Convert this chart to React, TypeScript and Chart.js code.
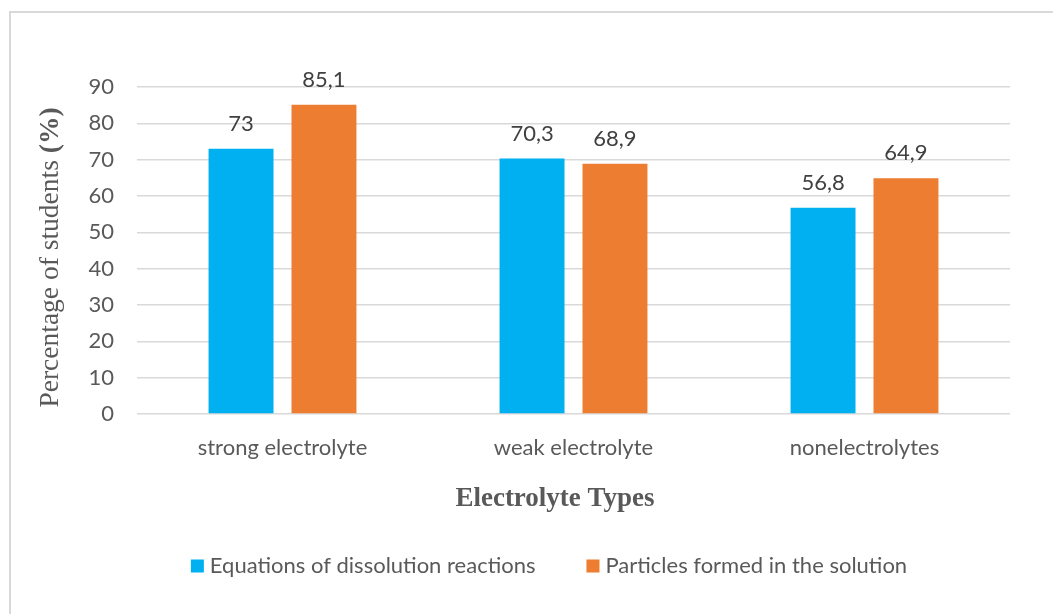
import React, { useEffect, useRef } from "react";
import { Chart, registerables } from "chart.js";

Chart.register(...registerables);

// Categories and series values (percentage of students)
const categories = ["strong electrolyte", "weak electrolyte", "nonelectrolytes"];
const dissolutionEquations = [73, 70.3, 56.8];
const particlesFormed = [85.1, 68.9, 64.9];
const seriesNames = ["Equations of dissolution reactions", "Particles formed in the solution"];
const seriesColors = ["#00B0F0", "#ED7D31"];

// Value axis
const yMin = 0;
const yMax = 90;
const yStep = 10;

// Axis titles: the y title has a regular part and a bold part
const yTitleParts = ["Percentage of students ", "(%)"];
const xTitle = "Electrolyte Types";

const SANS = "Lato, 'Open Sans', sans-serif";
const SERIF = "'Liberation Serif', 'DejaVu Serif', serif";
const TEXT_GREY = "#595959";
const LABEL_GREY = "#404040";
const GRID_GREY = "#d9d9d9";

const W = 1053;
const H = 614;

const fmt = (v: number) => String(v).replace(".", ",");

// Frame, value labels, axis titles and legend
const decorations = {
  id: "decorations",
  afterDatasetsDraw(chart: any) {
    const ctx = chart.ctx as CanvasRenderingContext2D;
    const area = chart.chartArea;
    ctx.save();

    // outer frame (left and top edges fall inside the canvas)
    ctx.strokeStyle = GRID_GREY;
    ctx.lineWidth = 2;
    ctx.beginPath();
    ctx.moveTo(10, H + 5);
    ctx.lineTo(10, 12);
    ctx.lineTo(W + 5, 12);
    ctx.stroke();

    // value labels above bars
    ctx.font = `22px ${SANS}`;
    ctx.fillStyle = LABEL_GREY;
    ctx.textAlign = "center";
    ctx.textBaseline = "middle";
    chart.data.datasets.forEach((ds: any, di: number) => {
      const meta = chart.getDatasetMeta(di);
      meta.data.forEach((bar: any, i: number) => {
        ctx.fillText(fmt(ds.data[i]), bar.x, bar.y - 25);
      });
    });

    // y axis title, rotated, regular + bold parts
    const regFont = `27.5px ${SERIF}`;
    const boldFont = `bold 27.5px ${SERIF}`;
    ctx.font = regFont;
    const w1 = ctx.measureText(yTitleParts[0]).width;
    ctx.font = boldFont;
    const w2 = ctx.measureText(yTitleParts[1]).width;
    const total = w1 + w2;
    const cy = (area.top + area.bottom) / 2 + 7;
    ctx.save();
    ctx.translate(51, cy);
    ctx.rotate(-Math.PI / 2);
    ctx.fillStyle = TEXT_GREY;
    ctx.textAlign = "left";
    ctx.textBaseline = "middle";
    ctx.font = regFont;
    ctx.fillText(yTitleParts[0], -total / 2, 0);
    ctx.font = boldFont;
    ctx.fillText(yTitleParts[1], -total / 2 + w1, 0);
    ctx.restore();

    // x axis title
    ctx.font = `bold 27px ${SERIF}`;
    ctx.fillStyle = TEXT_GREY;
    ctx.textAlign = "center";
    ctx.textBaseline = "middle";
    ctx.fillText(xTitle, 555, 499);

    // legend
    ctx.font = `22px ${SANS}`;
    const box = 13;
    const textGap = 6;
    const itemGap = 51;
    const widths = chart.data.datasets.map((ds: any) => box + textGap + ctx.measureText(ds.label).width);
    const legendWidth = widths.reduce((a: number, b: number) => a + b, 0) + itemGap * (widths.length - 1);
    let x = 549 - legendWidth / 2;
    const ly = 566;
    chart.data.datasets.forEach((ds: any, di: number) => {
      ctx.fillStyle = ds.backgroundColor;
      ctx.fillRect(x, ly - box / 2, box, box);
      ctx.fillStyle = TEXT_GREY;
      ctx.textAlign = "left";
      ctx.textBaseline = "middle";
      ctx.fillText(ds.label, x + box + textGap, ly);
      x += widths[di] + itemGap;
    });

    ctx.restore();
  },
};

export default function App() {
  const canvasRef = useRef<HTMLCanvasElement | null>(null);

  useEffect(() => {
    const canvas = canvasRef.current;
    if (!canvas) return;
    const chart = new Chart(canvas, {
      type: "bar",
      data: {
        labels: categories,
        datasets: [
          {
            label: seriesNames[0],
            data: dissolutionEquations,
            backgroundColor: seriesColors[0],
            categoryPercentage: 0.57,
            barPercentage: 0.783,
          },
          {
            label: seriesNames[1],
            data: particlesFormed,
            backgroundColor: seriesColors[1],
            categoryPercentage: 0.57,
            barPercentage: 0.783,
          },
        ],
      },
      options: {
        responsive: false,
        animation: false,
        layout: { padding: { left: 0, right: 43, top: 87, bottom: 0 } },
        plugins: {
          legend: { display: false },
          tooltip: { enabled: false },
          title: { display: false },
        },
        scales: {
          x: {
            grid: { display: false, drawTicks: false },
            border: { display: false },
            ticks: {
              font: { family: SANS, size: 22 },
              color: TEXT_GREY,
              padding: 21,
            },
            afterFit(scale: any) {
              scale.height = 200;
            },
          },
          y: {
            min: yMin,
            max: yMax,
            grid: { color: GRID_GREY, lineWidth: 1.5, drawTicks: false },
            border: { display: false },
            ticks: {
              stepSize: yStep,
              font: { family: SANS, size: 22 },
              color: TEXT_GREY,
              padding: 23,
            },
            afterFit(scale: any) {
              scale.width = 137;
            },
          },
        },
      },
      plugins: [decorations],
    });
    return () => chart.destroy();
  }, []);

  return (
    <div style={{ position: "fixed", left: 0, top: 0, width: W, height: H, background: "#fff" }}>
      <canvas ref={canvasRef} width={W} height={H} style={{ display: "block" }} />
    </div>
  );
}
